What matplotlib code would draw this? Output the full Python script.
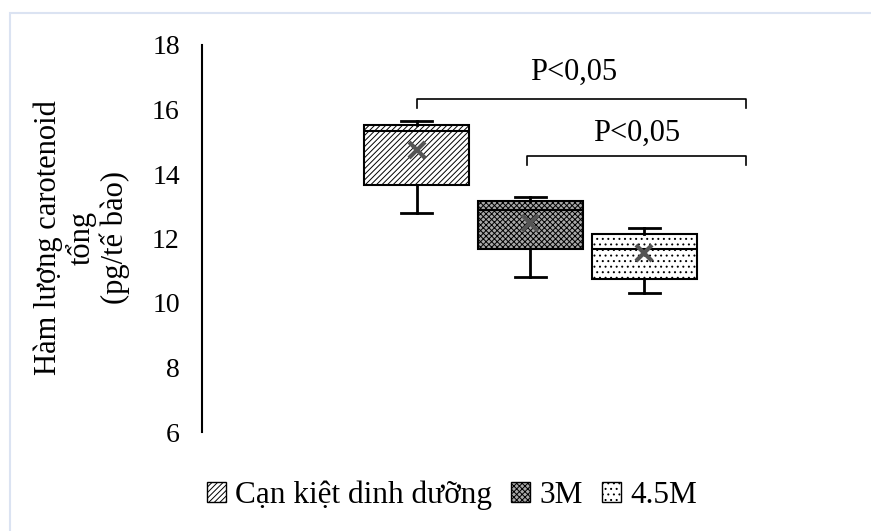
import matplotlib
matplotlib.use("Agg")
import matplotlib.pyplot as plt
from matplotlib.patches import Patch, Rectangle

plt.rcParams['font.family'] = ['Liberation Serif', 'DejaVu Serif']
plt.rcParams['hatch.linewidth'] = 0.7

# ---- data ----
groups = ["Cạn kiệt dinh dưỡng", "3M", "4.5M"]
whisker_low = [12.79, 10.81, 10.31]
q1 = [13.66, 11.67, 10.74]
median = [15.33, 12.88, 11.67]
q3 = [15.52, 13.16, 12.14]
whisker_high = [15.64, 13.29, 12.33]
means = [14.74, 12.48, 11.55]
yticks = [6, 8, 10, 12, 14, 16, 18]
p_labels = ["P<0,05", "P<0,05"]
hatches = ['//////', 'xxxxxx', '...']
faces = ['white', '#a8a8a8', 'white']

W, H = 871, 531
fig = plt.figure(figsize=(W / 100, H / 100), dpi=100)

# light border around the figure area (top and left only visible)
fig.add_artist(Rectangle((10 / W, -0.05), 1.2, 1 - 13 / H + 0.05, transform=fig.transFigure,
                         fill=False, edgecolor='#dbe3f2', lw=1.5))

left, right, top, bottom = 202, 820, 45, 432
ax = fig.add_axes([left / W, 1 - bottom / H, (right - left) / W, (bottom - top) / H])

stats = []
for i, g in enumerate(groups):
    stats.append(dict(label=g, whislo=whisker_low[i], q1=q1[i], med=median[i],
                      q3=q3[i], whishi=whisker_high[i], mean=means[i], fliers=[]))

positions = [1, 2, 3]
bp = ax.bxp(stats, positions=positions, widths=0.92, patch_artist=True, showmeans=True,
            showfliers=False, capwidths=0.28,
            boxprops=dict(edgecolor='black', linewidth=1.5),
            medianprops=dict(color='black', linewidth=1.5),
            whiskerprops=dict(color='black', linewidth=2.0),
            capprops=dict(color='black', linewidth=2.0),
            meanprops=dict(marker='x', markeredgecolor='#555555', markersize=11,
                           markeredgewidth=3))
for patch, h, fc in zip(bp['boxes'], hatches, faces):
    patch.set_hatch(h)
    patch.set_facecolor(fc)

ax.set_ylim(6, 18)
ax.set_xlim(-0.882, 4.54)
ax.set_yticks(yticks)
ax.set_yticklabels([str(t) for t in yticks], fontsize=20)
ax.tick_params(axis='y', length=0, pad=16)
ax.set_xticks([])
for s in ['top', 'right', 'bottom']:
    ax.spines[s].set_visible(False)
ax.spines['left'].set_linewidth(1.5)

# significance brackets
def bracket(x0, x1, y, h, ty, tx, text):
    ax.plot([x0, x0, x1, x1], [y - h, y, y, y - h], color='black', lw=1.2, clip_on=False)
    ax.text(tx, ty, text, ha='center', va='center', fontsize=22)

bracket(1.0, 3.89, 16.32, 0.28, 17.15, 2.38, p_labels[0])
bracket(1.97, 3.89, 14.57, 0.28, 15.25, 2.93, p_labels[1])

fig.text(82 / W, 1 - 238 / H, "Hàm lượng carotenoid\ntổng\n(pg/tế bào)", rotation=90,
         ha='center', va='center', multialignment='center', fontsize=22, linespacing=1.12)

handles = [Patch(facecolor=fc, edgecolor='black', hatch=h, lw=1.0) for h, fc in zip(hatches, faces)]
fig.legend(handles, groups, loc='center', bbox_to_anchor=(452 / W, 1 - 495 / H), ncol=3,
           frameon=False, fontsize=22.5, handlelength=0.62, handleheight=0.62,
           handletextpad=0.3, columnspacing=0.6)

fig.savefig('out.png', dpi=100)
